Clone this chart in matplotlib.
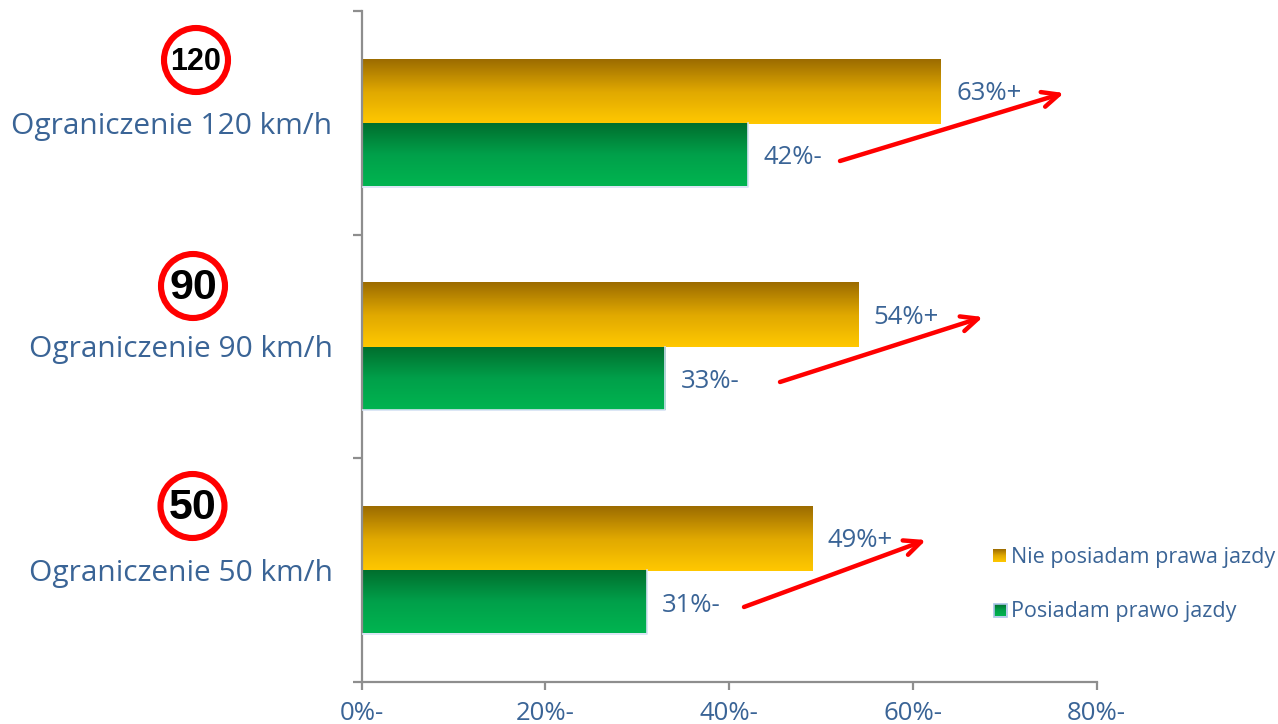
import matplotlib
matplotlib.use("Agg")
import matplotlib.pyplot as plt
from matplotlib.colors import LinearSegmentedColormap
from matplotlib.patches import Circle
import numpy as np

categories = ["Ograniczenie 120 km/h", "Ograniczenie 90 km/h", "Ograniczenie 50 km/h"]
sign_labels = ["120", "90", "50"]
no_licence = [63, 54, 49]
licence = [42, 33, 31]
no_licence_labels = ["63%+", "54%+", "49%+"]
licence_labels = ["42%-", "33%-", "31%-"]
x_ticks = [0, 20, 40, 60, 80]
x_tick_labels = ["0%-", "20%-", "40%-", "60%-", "80%-"]
legend_names = ["Nie posiadam prawa jazdy", "Posiadam prawo jazdy"]

W, H = 1278, 724
BLUE = "#3A6496"
GREY = "#8E8E8E"
FONT = "Open Sans"

plt.rcParams["font.family"] = FONT

orange_cmap = LinearSegmentedColormap.from_list("orange", ["#9C6C00", "#E0A800", "#FFC800"])
green_cmap = LinearSegmentedColormap.from_list("green", ["#006F2E", "#00A04A", "#00B450"])
ramp = np.linspace(0, 1, 64).reshape(-1, 1)


def gradient_bar(ax, value, y0, y1, cmap):
    ax.imshow(ramp, cmap=cmap, extent=(0, value, y1, y0), aspect="auto", zorder=2)


fig = plt.figure(figsize=(W / 100, H / 100), dpi=100, facecolor="white")
ax = fig.add_axes([361.7 / W, 1 - 682 / H, 735 / W, 671 / H])

for i in range(len(categories)):
    gradient_bar(ax, no_licence[i], i - 0.286, i + 0.003, orange_cmap)
    gradient_bar(ax, licence[i], i + 0.003, i + 0.283, green_cmap)
    # thin pale edge around the green bars
    ax.plot([licence[i], licence[i], 0], [i, i + 0.285, i + 0.285],
            color="#D5E2F3", lw=1.2, zorder=3)
    ax.annotate(no_licence_labels[i], (no_licence[i], i - 0.144), xytext=(11.2, -2),
                textcoords="offset points", color=BLUE, fontsize=18.5, va="center", ha="left")
    ax.annotate(licence_labels[i], (licence[i], i + 0.144), xytext=(11.2, -2),
                textcoords="offset points", color=BLUE, fontsize=18.5, va="center", ha="left")

ax.set_xlim(0, 80)
ax.set_ylim(2.5, -0.5)
ax.spines["top"].set_visible(False)
ax.spines["right"].set_visible(False)
for side in ["left", "bottom"]:
    ax.spines[side].set_color(GREY)
    ax.spines[side].set_linewidth(1.6)

ax.set_xticks(x_ticks)
ax.set_xticklabels(x_tick_labels, fontsize=18.5, color=BLUE)
ax.tick_params(axis="x", length=6, width=1.6, color=GREY, pad=8)
ax.set_yticks(range(len(categories)))
ax.set_yticklabels(categories, fontsize=21.5, color=BLUE)
ax.set_yticks([-0.5, 0.5, 1.5, 2.5], minor=True)
ax.tick_params(axis="y", which="major", length=0, pad=21)
ax.tick_params(axis="y", which="minor", length=6.5, width=1.6, color=GREY)

# overlay in image pixels for the signs, arrows and legend
over = fig.add_axes([0, 0, 1, 1], facecolor="none")
over.set_xlim(0, W)
over.set_ylim(H, 0)
over.axis("off")

sign_centers = [(196, 60), (193, 286), (192.5, 506)]
sign_sizes = [22, 31, 31]
for (cx, cy), txt, size in zip(sign_centers, sign_labels, sign_sizes):
    over.add_patch(Circle((cx, cy), 32, facecolor="white", edgecolor="#FF0000", lw=4.4))
    over.text(cx, cy + 2, txt, ha="center", va="center", fontsize=size, fontweight="bold",
              color="black", family="Liberation Sans")

arrows = [((840, 161), (1064, 93)), ((780, 382), (983, 317)), ((744, 607), (926, 540))]
for start, end in arrows:
    over.annotate("", xy=end, xytext=start,
                  arrowprops=dict(arrowstyle="->,head_length=1.2,head_width=0.55", color="#FF0000",
                                  lw=3.2, shrinkA=0, shrinkB=0))

swatches = [(993, 549, 13, 13, orange_cmap), (994, 604, 12, 12, green_cmap)]
text_y = [557, 611]
for (x0, y0, w, h, cmap), name, ty in zip(swatches, legend_names, text_y):
    over.imshow(ramp, cmap=cmap, extent=(x0, x0 + w, y0 + h, y0), aspect="auto")
    over.text(1011, ty, name, fontsize=15.5, color=BLUE, va="center", ha="left")
over.add_patch(plt.Rectangle((993.5, 603.5), 13, 13, fill=False, edgecolor="#A9C3E6", lw=1.2))
over.set_xlim(0, W)
over.set_ylim(H, 0)

fig.savefig("out.png", dpi=100)
